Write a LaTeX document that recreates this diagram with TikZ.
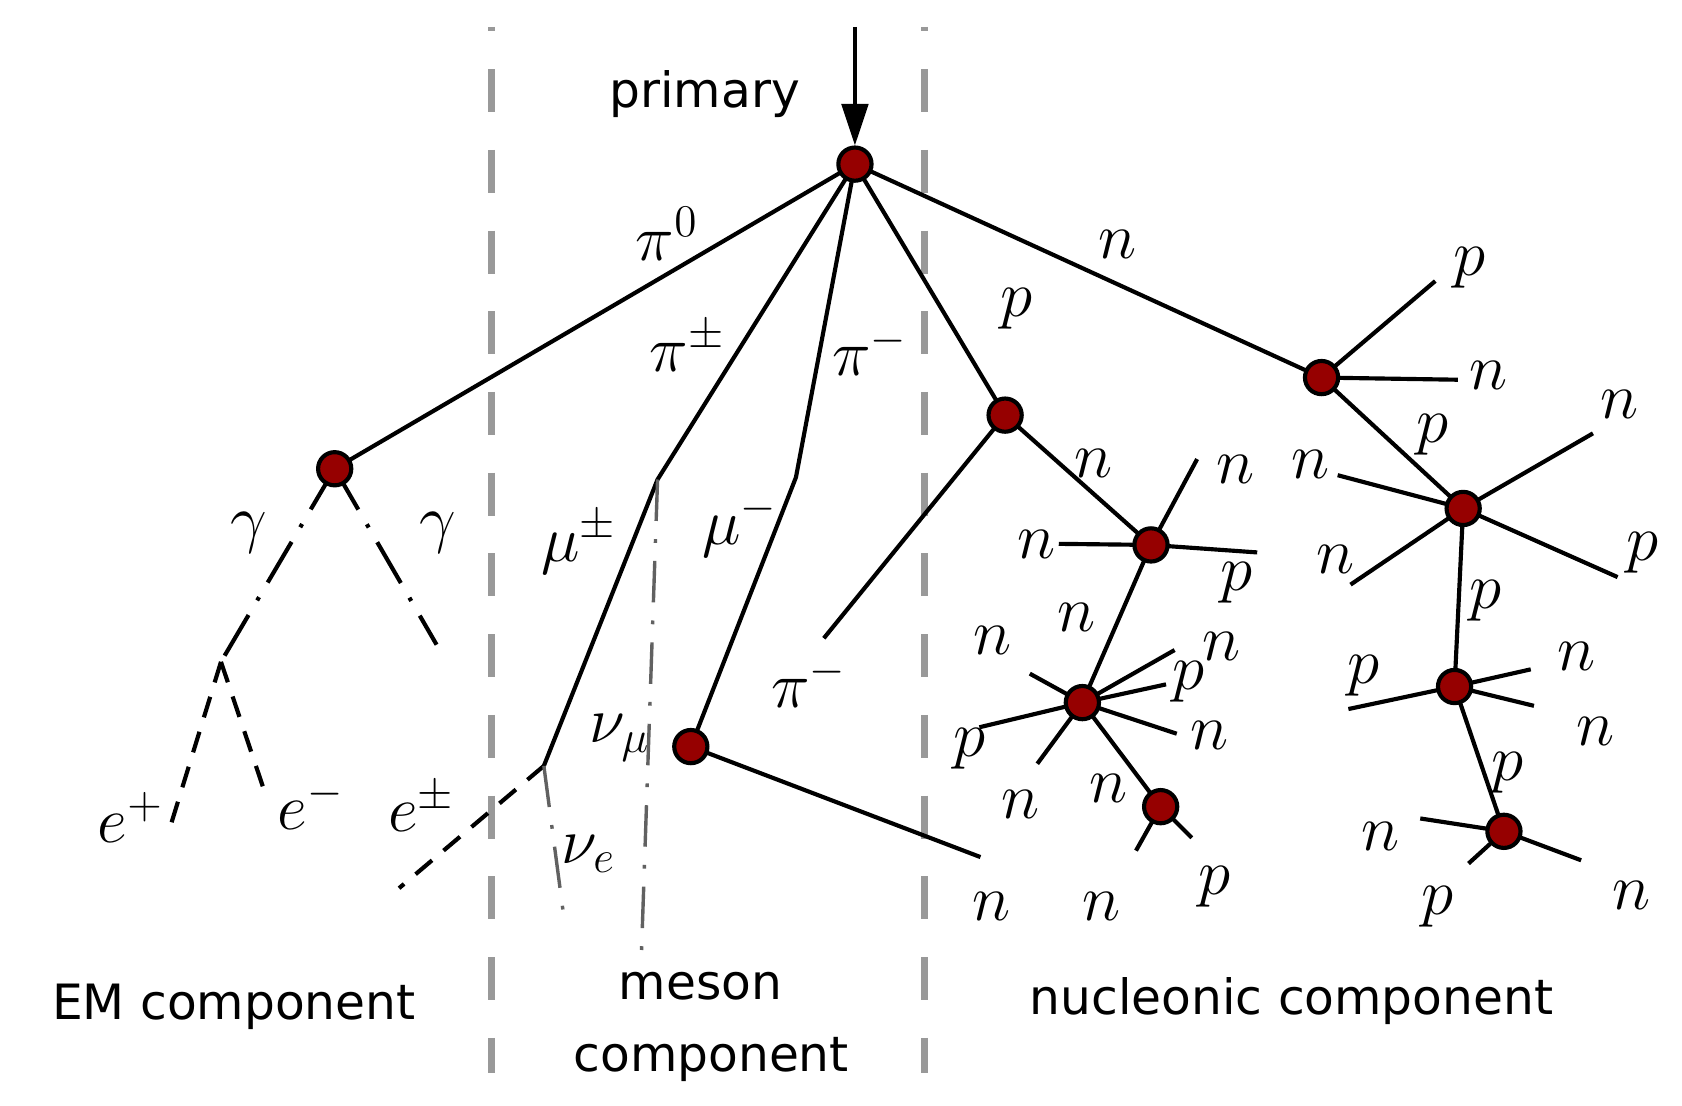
\documentclass[tikz,border=0pt]{standalone}
\usepackage{fontspec}
\usepackage{amsmath}
\newfontfamily\compfont{DejaVu Sans}
\usetikzlibrary{arrows.meta}
\definecolor{vtxred}{RGB}{150,0,0}

\tikzset{
  vtx/.style={circle, draw, line width=1.1pt, fill=vtxred, minimum size=8.8pt, inner sep=0pt},
  trk/.style={line width=1.1pt},
  gam/.style={trk, dash pattern=on 12.5pt off 4.5pt on 1pt off 4.5pt},
  lep/.style={trk, dash pattern=on 5.7pt off 4pt},
  nu/.style={line width=0.9pt, black!62, dash pattern=on 11pt off 4.8pt on 1pt off 4.8pt},
  divider/.style={line width=1.7pt, black!40, dash pattern=on 11.4pt off 10pt, dash phase=10.2pt},
  lbl/.style={font=\fontsize{17.28}{20}\selectfont, inner sep=0pt},
  comp/.style={font=\compfont\fontsize{12.9}{15.5}\selectfont, inner sep=0pt}
}

\begin{document}
\begin{tikzpicture}[x=0.01cm, y=-0.01cm]
    \useasboundingbox (0,0) rectangle (1568,1031);
    % component boundaries
    \draw[divider] (458,25) -- (458,1000);
    \draw[divider] (862,25) -- (862,1000);
    % interaction points
    \coordinate (top) at (797,25);
    \coordinate (P) at (797,153);
    \coordinate (G) at (312,437); \coordinate (Gs) at (206,617); \coordinate (Gr) at (407,601);
    \coordinate (eP) at (158,773); \coordinate (eM) at (249,745);
    \coordinate (Kpi) at (613,447); \coordinate (Mu) at (507,714);
    \coordinate (eE) at (372,828); \coordinate (nuE) at (525,850); \coordinate (nuM) at (598,888);
    \coordinate (Kpm) at (742,445); \coordinate (V) at (644,696); \coordinate (Vn) at (914,799);
    \coordinate (A) at (937,387); \coordinate (Api) at (768,595);
    \coordinate (C) at (1073,508);
    \coordinate (C1) at (1116,428); \coordinate (C2) at (987,507); \coordinate (C3) at (1172,515);
    \coordinate (D) at (1009,655);
    \coordinate (D1) at (960,628); \coordinate (D2) at (1095,606); \coordinate (D3) at (1087,638);
    \coordinate (D4) at (1097,684); \coordinate (D5) at (913,678); \coordinate (D6) at (967,712);
    \coordinate (E) at (1082,752);
    \coordinate (E1) at (1059,793); \coordinate (E2) at (1111,781);
    \coordinate (B) at (1232,352);
    \coordinate (B1) at (1338,262); \coordinate (B2) at (1359,354);
    \coordinate (F) at (1364,474);
    \coordinate (F1) at (1247,443); \coordinate (F2) at (1485,404); \coordinate (F3) at (1508,538); \coordinate (F4) at (1259,545);
    \coordinate (K) at (1356,640);
    \coordinate (K1) at (1257,661); \coordinate (K2) at (1427,624); \coordinate (K3) at (1430,658);
    \coordinate (H) at (1402,775);
    \coordinate (H1) at (1324,763); \coordinate (H2) at (1474,802); \coordinate (H3) at (1369,805);
    % tracks
    \draw[trk] (P) -- (G);
    \draw[trk] (P) -- (Kpi) -- (Mu);
    \draw[trk] (P) -- (Kpm) -- (V) -- (Vn);
    \draw[trk] (P) -- (A) -- (C) -- (D) -- (E);
    \draw[trk] (A) -- (Api);
    \draw[trk] (P) -- (B) -- (F) -- (K) -- (H);
    \foreach \e in {C1,C2,C3} {\draw[trk] (C) -- (\e);}
    \foreach \e in {D1,D2,D3,D4,D5,D6} {\draw[trk] (D) -- (\e);}
    \foreach \e in {E1,E2} {\draw[trk] (E) -- (\e);}
    \foreach \e in {B1,B2} {\draw[trk] (B) -- (\e);}
    \foreach \e in {F1,F2,F3,F4} {\draw[trk] (F) -- (\e);}
    \foreach \e in {K1,K2,K3} {\draw[trk] (K) -- (\e);}
    \foreach \e in {H1,H2,H3} {\draw[trk] (H) -- (\e);}
    \draw[gam] (G) -- (Gs); \draw[gam] (G) -- (Gr);
    \draw[lep] (Gs) -- (eP); \draw[lep] (Gs) -- (eM); \draw[lep] (Mu) -- (eE);
    \draw[nu] (Mu) -- (nuE); \draw[nu] (Kpi) -- (nuM);
    \foreach \v in {P,G,V,A,C,D,E,B,F,K,H} {\node[vtx] (v\v) at (\v) {};}
    \draw[trk, -{Triangle[length=11pt, width=7pt]}] (top) -- (vP);
    % particle labels
    \node[lbl] (lpi0) at (622,218) {$\pi^0$}; \node[lbl] (lpipm) at (641,323) {$\pi^\pm$};
    \node[lbl] (lpim) at (811,327) {$\pi^-$}; \node[lbl] (lpimb) at (754,636) {$\pi^-$};
    \node[lbl] (lmupm) at (540,506) {$\mu^\pm$}; \node[lbl] (lmum) at (690,490) {$\mu^-$};
    \node[lbl] (lnum) at (578,688) {$\nu_\mu$}; \node[lbl] (lnue) at (549,796) {$\nu_e$};
    \node[lbl] (lgl) at (232,497) {$\gamma$}; \node[lbl] (lgr) at (408,497) {$\gamma$};
    \node[lbl] (lep) at (122,762) {$e^+$}; \node[lbl] (lem) at (290,750) {$e^-$};
    \node[lbl] (lepm) at (393,752) {$e^\pm$};
    \node[lbl] (lpA) at (948,288) {$p$}; \node[lbl] (lnB) at (1042,228) {$n$};
    \node[lbl] (lnC) at (1019,432) {$n$}; \node[lbl] (lnC1) at (1152,438) {$n$};
    \node[lbl] (lnC2) at (966,508) {$n$}; \node[lbl] (lpC3) at (1153,543) {$p$};
    \node[lbl] (lnD) at (1004,576) {$n$}; \node[lbl] (lnD1) at (925,597) {$n$};
    \node[lbl] (lnD2) at (1139,603) {$n$}; \node[lbl] (lpD3) at (1108,636) {$p$};
    \node[lbl] (lnD4) at (1128,686) {$n$}; \node[lbl] (lpD5) at (904,698) {$p$};
    \node[lbl] (lnD6) at (951,750) {$n$}; \node[lbl] (lnE) at (1033,735) {$n$};
    \node[lbl] (lnVn) at (924,845) {$n$}; \node[lbl] (lnE1) at (1027,845) {$n$};
    \node[lbl] (lpE2) at (1132,827) {$p$};
    \node[lbl] (lpB1) at (1370,250) {$p$}; \node[lbl] (lnB2) at (1388,350) {$n$};
    \node[lbl] (lpF) at (1335,405) {$p$}; \node[lbl] (lnF1) at (1222,433) {$n$};
    \node[lbl] (lnF2) at (1510,377) {$n$}; \node[lbl] (lnF4) at (1245,522) {$n$};
    \node[lbl] (lpF3) at (1531,515) {$p$}; \node[lbl] (lpK) at (1385,560) {$p$};
    \node[lbl] (lpK1) at (1271,630) {$p$}; \node[lbl] (lnK2) at (1470,612) {$n$};
    \node[lbl] (lnK3) at (1487,682) {$n$}; \node[lbl] (lpH) at (1405,720) {$p$};
    \node[lbl] (lnH1) at (1287,780) {$n$}; \node[lbl] (lnH2) at (1521,835) {$n$};
    \node[lbl] (lpH3) at (1340,845) {$p$};
    % captions
    \node[comp] (prim) at (657,88) {primary};
    \node[comp] (em) at (218,939) {EM component};
    \node[comp] (mes1) at (653,919) {meson};
    \node[comp] (mes2) at (663,988) {component};
    \node[comp] (nuc) at (1204,933) {nucleonic component};
\end{tikzpicture}
\end{document}
